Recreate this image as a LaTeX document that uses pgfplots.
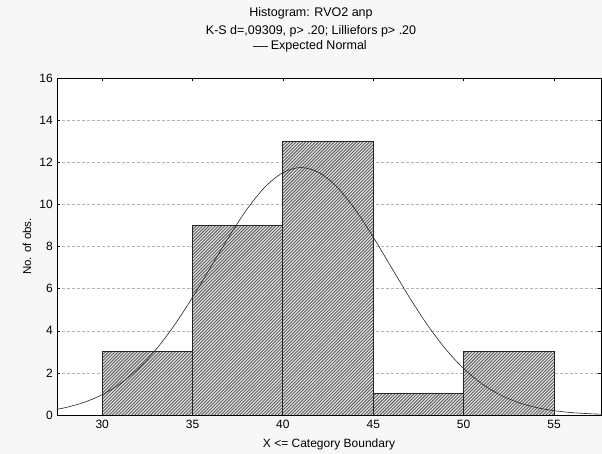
\documentclass[border=0pt]{standalone}
\usepackage{pgfplots}
\pgfplotsset{compat=1.18}
\usepackage{fontspec}
\setmainfont{Liberation Sans}
\usetikzlibrary{patterns,backgrounds}
\definecolor{bg}{HTML}{F7F7F7}
\pgfdeclarepatternformonly{histhatch}{\pgfqpoint{-1pt}{-1pt}}{\pgfqpoint{4pt}{4pt}}{\pgfqpoint{3.2pt}{3.2pt}}{%
  \pgfsetlinewidth{0.9pt}%
  \pgfpathmoveto{\pgfqpoint{0pt}{0pt}}%
  \pgfpathlineto{\pgfqpoint{3.3pt}{3.3pt}}%
  \pgfusepath{stroke}}
\begin{document}
\fontsize{12bp}{14bp}\selectfont
\begin{tikzpicture}
\begin{axis}[
  at={(0,0)}, anchor=south west,
  scale only axis, width=544bp, height=337bp,
  xmin=27.5, xmax=57.6, ymin=0, ymax=16,
  xtick={30,35,40,45,50,55}, ytick={0,2,4,6,8,10,12,14,16},
  tick align=inside, major tick length=3bp,
  tick style={black, line width=0.5pt},
  ymajorgrids, grid style={densely dashed, gray!60, line width=0.4pt},
  axis line style={line width=0.9pt},
  axis background/.style={fill=white},
  /pgf/number format/assume math mode=true,
  ticklabel style={font=\fontsize{12bp}{13bp}\selectfont},
  xticklabel style={yshift=-1bp},
  xlabel={X <= Category Boundary},
  ylabel={No. of obs.},
  xlabel style={at={(axis description cs:0.5,-0.086)}, anchor=center, font=\fontsize{12bp}{13bp}\selectfont},
  ylabel style={at={(axis description cs:-0.055,0.5)}, anchor=center, font=\fontsize{11.5bp}{13bp}\selectfont},
  title={Histogram: RVO2 anp\\K-S d=,09309, p> .20; Lilliefors p> .20},
  title style={align=center, at={(axis description cs:0.467,1)}, anchor=south, yshift=30.5bp, font=\fontsize{12.5bp}{18bp}\selectfont},
  legend style={at={(axis description cs:0.467,1.095)}, anchor=center, draw=none, fill=none, font=\fontsize{12.5bp}{13bp}\selectfont, inner sep=0pt, nodes={inner xsep=2.5bp, inner ysep=0pt}},
  legend image code/.code={\draw[#1] (0bp,0bp) -- (15bp,0bp);},
  legend cell align=left,
]
\addplot[ybar interval, fill=gray!20, draw=black!85, line width=0.9pt,
  postaction={pattern=histhatch, pattern color=black!62}, forget plot]
  coordinates {(30,3) (35,9) (40,13) (45,1) (50,3) (55,3)};
\addplot[smooth, black!85, line width=0.6pt] coordinates {
 (27.5,0.272) (28,0.358) (29,0.600) (30,0.965) (31,1.489) (32,2.205) (33,3.132)
 (34,4.270) (35,5.585) (36,7.011) (37,8.443) (38,9.757) (39,10.818) (40,11.510)
 (41,11.75) (42,11.510) (43,10.818) (44,9.757) (45,8.443) (46,7.011) (47,5.585)
 (48,4.270) (49,3.132) (50,2.205) (51,1.489) (52,0.965) (53,0.600) (54,0.358)
 (55,0.205) (56,0.113) (57,0.059) (57.6,0.040)};
\addlegendentry{Expected Normal}
\end{axis}
\pgfresetboundingbox
\path[use as bounding box] (-57bp,-39bp) rectangle (545bp,415bp);
\begin{scope}[on background layer]
\fill[bg] (-57bp,-39bp) rectangle (545bp,415bp);
\end{scope}
\end{tikzpicture}
\end{document}
